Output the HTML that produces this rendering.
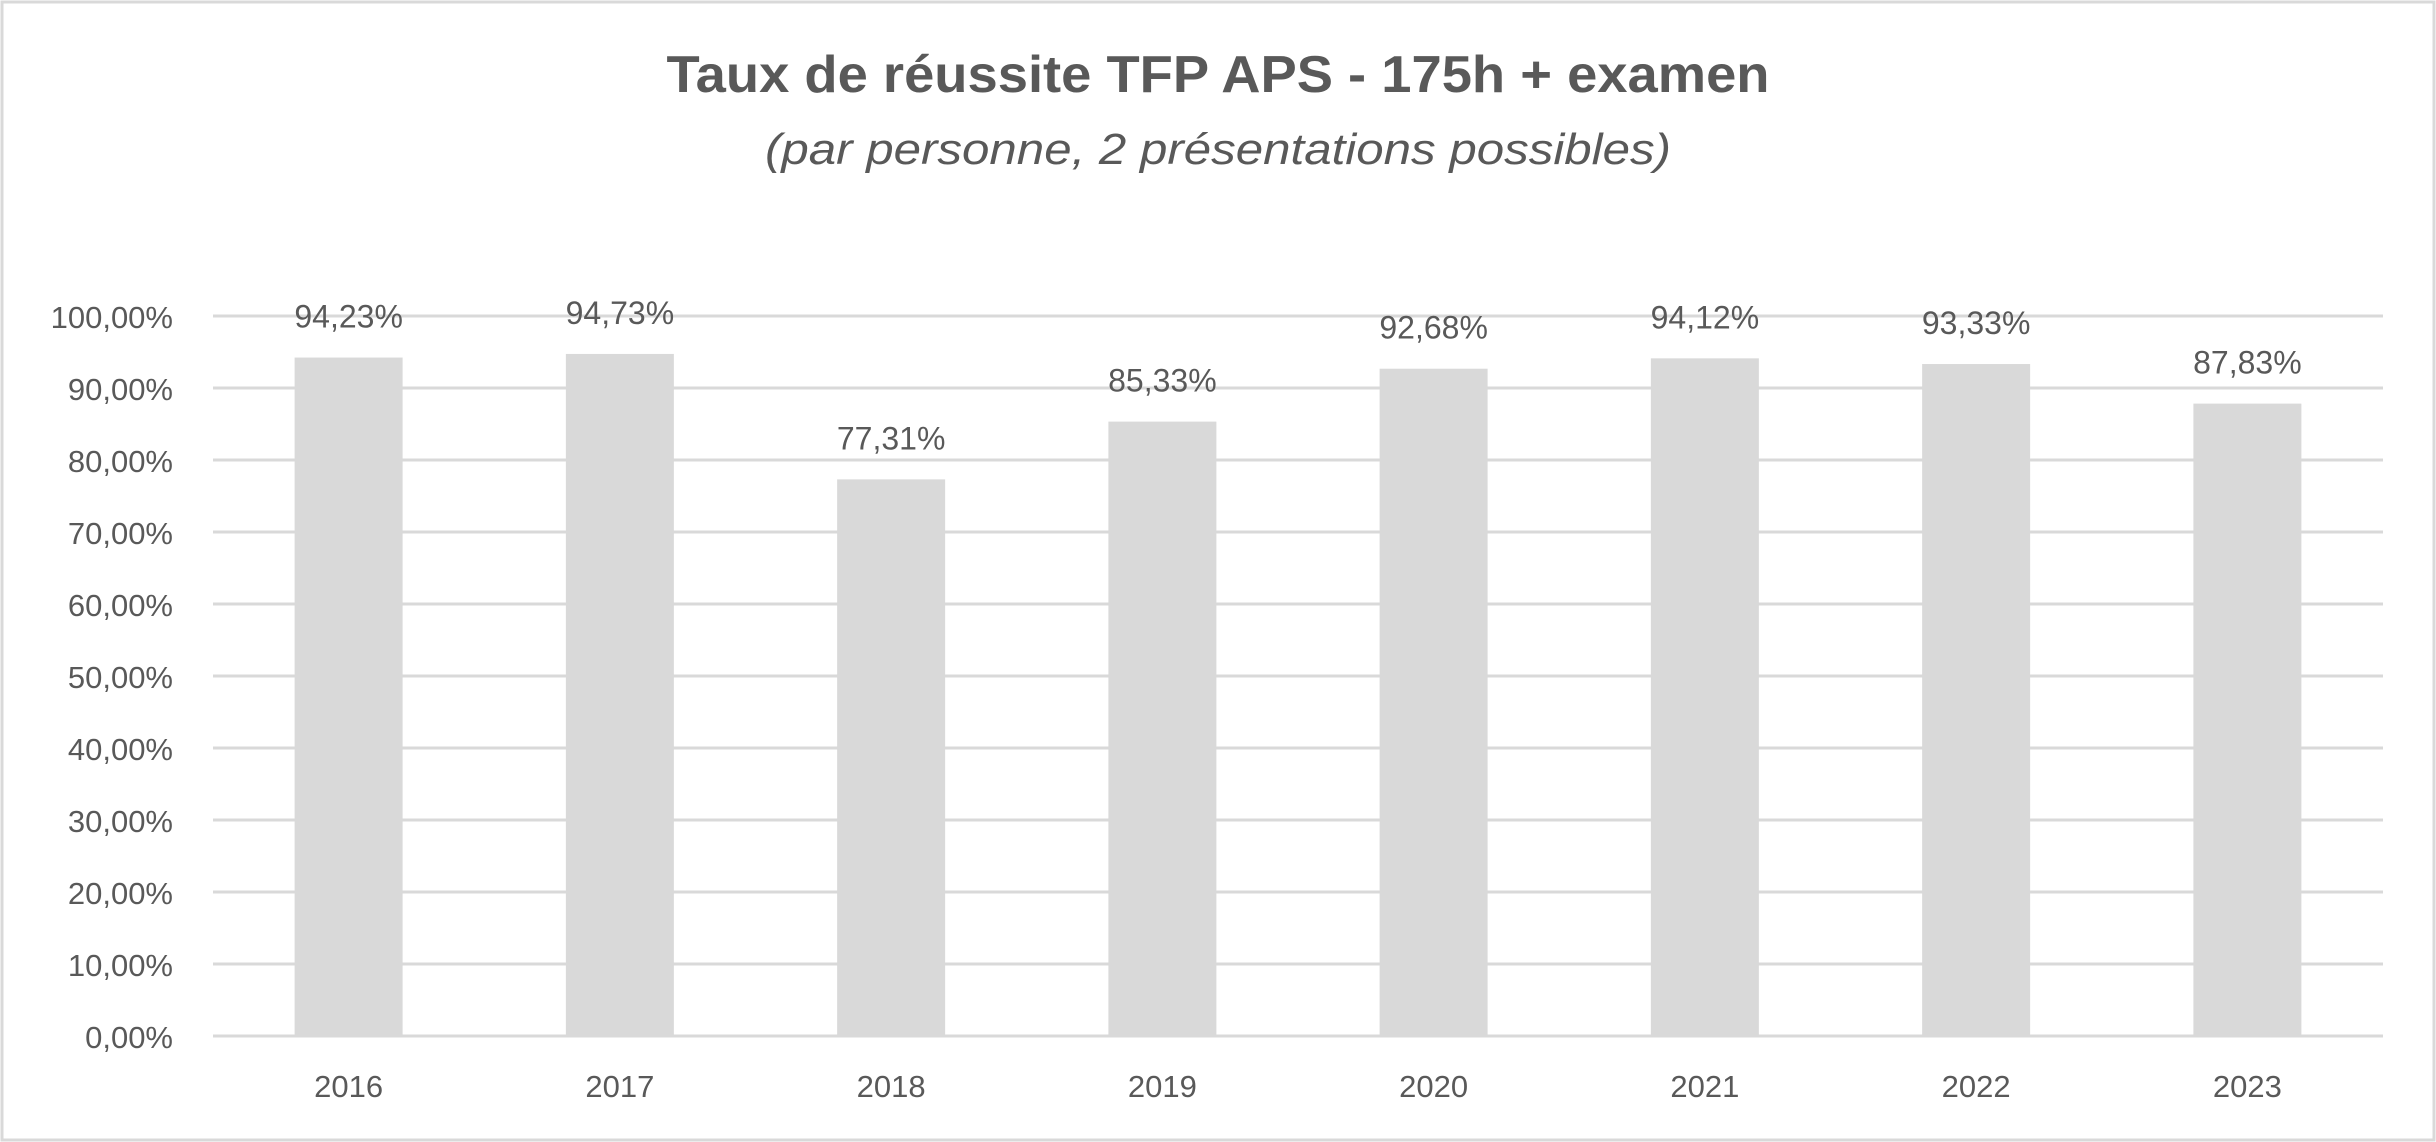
<!DOCTYPE html>
<html><head><meta charset="utf-8"><style>
html,body{margin:0;padding:0;background:#fff}
svg{display:block}
text{font-family:"Liberation Sans",sans-serif;fill:#595959}
</style></head><body>
<svg id="chart" width="2436" height="1142" viewBox="0 0 2436 1142" xmlns="http://www.w3.org/2000/svg">
<rect x="2" y="2" width="2432" height="1138" fill="#fff" stroke="#d9d9d9" stroke-width="3"/>
<text x="1218" y="92" text-anchor="middle" font-size="52" font-weight="bold" textLength="1103" lengthAdjust="spacingAndGlyphs">Taux de réussite TFP APS - 175h + examen</text>
<text x="1218" y="164" text-anchor="middle" font-size="44" font-style="italic" textLength="906" lengthAdjust="spacingAndGlyphs">(par personne, 2 présentations possibles)</text>
<g id="grid"></g><g id="bars"></g><g id="labels"></g>
</svg>
<script>
const categories=["2016","2017","2018","2019","2020","2021","2022","2023"];
const values=[94.23,94.73,77.31,85.33,92.68,94.12,93.33,87.83];
const valueLabels=["94,23%","94,73%","77,31%","85,33%","92,68%","94,12%","93,33%","87,83%"];
const ticks=[0,10,20,30,40,50,60,70,80,90,100];
const tickLabels=["0,00%","10,00%","20,00%","30,00%","40,00%","50,00%","60,00%","70,00%","80,00%","90,00%","100,00%"];
const NS="http://www.w3.org/2000/svg";
const x0=213,x1=2383,yZero=1036,yTop=316;
const y=v=>yZero-(v/100)*(yZero-yTop);
const band=(x1-x0)/categories.length;
const xc=i=>x0+band*(i+0.5);
const bw=108;
function mk(t,a,p){const e=document.createElementNS(NS,t);for(const k in a)e.setAttribute(k,a[k]);p.appendChild(e);return e;}
const g=document.getElementById('grid'),b=document.getElementById('bars'),l=document.getElementById('labels');
ticks.forEach((t,i)=>{
 const ln=mk('line',{x1:x0,x2:x1,y1:y(t),y2:y(t),stroke:'#d9d9d9','stroke-width':3},g);
 
 
 const tx=mk('text',{x:173,y:y(t)+12,'text-anchor':'end','font-size':31},g);
 
 
 tx.textContent=tickLabels[i];
});
categories.forEach((c,i)=>{
 const r=mk('rect',{x:xc(i)-bw/2,y:y(values[i]),width:bw,height:yZero-y(values[i]),fill:'#d9d9d9'},b);
 
 
 const vl=mk('text',{x:xc(i),y:y(values[i])-30,'text-anchor':'middle','font-size':32},l);
 
 
 vl.textContent=valueLabels[i];
 const xl=mk('text',{x:xc(i),y:1097,'text-anchor':'middle','font-size':31},l);
 
 
 xl.textContent=c;
});
</script>
</body></html>
